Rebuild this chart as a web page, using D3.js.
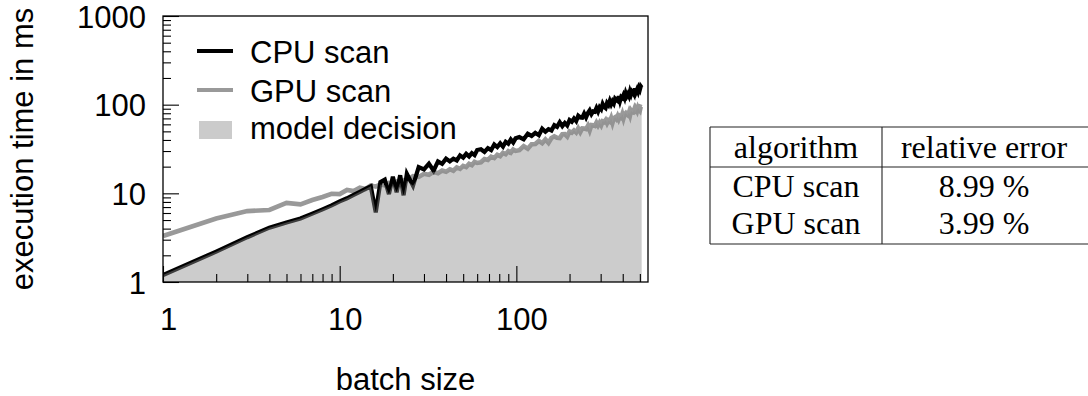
<!DOCTYPE html>
<html><head><meta charset="utf-8">
<script src="https://cdn.jsdelivr.net/npm/d3@7"></script>
<style>body{margin:0;background:#fff} svg{display:block}</style>
</head><body>
<svg id="c" width="1088" height="396"></svg>
<script>
const batchSizes = [
  1,2,3,4,5,6,7,8,9,10,11,12,13,14,15,16,17,18,19,20,21,22,23,24,
  26,28,30,32,34,36,38,40,42,44,46,48,50,52,54,56,58,60,
  63,66,69,72,75,78,81,84,87,90,93,96,99,
  104,110,116,122,128,134,140,146,152,158,164,170,176,182,188,194,200,206,212,218,224,230,236,242,248,
  254,260,266,272,278,284,290,296,302,308,314,320,326,332,338,344,350,356,362,368,374,380,386,392,398,
  404,410,416,422,428,434,440,446,452,458,464,470,476,482,488,494,500,506,512
];
const cpuScan = [
  1.2,2.2,3.2,4.1,4.7,5.2,5.9,6.6,7.3,8.1,8.8,9.6,10.4,11.2,12.0,6.1,13.4,14.3,9.8,15.4,10.3,16.0,9.5,16.6,
  12.2,19.8,18.6,21.6,18.0,22.9,21.5,24.6,22.9,24.6,23.5,26.8,25.3,27.9,26.1,28.4,27.0,30.8,
  31.4,29.3,32.3,30.7,35.5,33.3,36.6,33.6,38.1,36.3,40.5,37.4,41.7,
  43.1,40.7,46.9,44.4,48.1,45.3,53.6,49.5,53.0,51.2,58.7,56.2,63.4,57.3,62.3,58.2,67.2,64.3,69.8,65.3,75.1,71.8,71.2,79.4,71.9,
  80.4,86.2,78.2,84.0,83.1,91.7,83.8,93.5,88.9,102.0,94.5,91.6,104.3,99.2,110.4,100.9,109.1,103.3,117.0,113.1,110.3,124.6,110.1,122.4,119.2,
  128.3,119.0,134.6,125.0,132.0,124.6,141.0,130.8,142.0,138.1,131.2,152.5,139.8,148.6,140.0,154.8,147.4,161.0,156.0
];
const gpuScan = [
  3.3,5.2,6.3,6.5,7.8,7.5,8.4,9.1,9.9,9.8,10.9,10.6,11.6,11.2,12.3,11.9,12.6,12.3,13.1,12.9,13.6,13.2,14.1,13.9,
  15.6,15.3,16.6,16.2,17.5,16.9,18.1,17.5,18.7,18.0,19.6,18.9,20.4,19.8,21.5,20.8,22.7,22.0,
  22.4,24.4,23.8,25.9,25.0,27.2,26.3,28.6,27.6,29.9,28.7,31.2,30.1,
  30.7,34.1,31.9,35.7,36.0,39.0,36.7,40.5,37.1,42.1,43.9,42.3,42.0,46.5,46.6,43.7,49.9,48.3,51.2,48.5,54.0,49.1,54.1,53.9,53.1,
  57.8,51.3,58.9,58.7,57.7,62.8,58.2,62.6,58.5,64.9,63.7,67.0,61.8,66.5,64.6,70.7,62.6,70.2,71.8,69.1,74.3,68.6,73.7,71.7,78.4,
  70.3,77.9,80.3,77.3,75.7,82.2,75.8,85.5,82.3,81.6,87.7,79.2,88.8,84.6,92.5,88.2,85.6,94.6,93.8
];
const xTickValues = [1, 10, 100];
const yTickValues = [1, 10, 100, 1000];
const xLabel = "batch size";
const yLabel = "execution time in ms";
const legendLabels = ["CPU scan", "GPU scan", "model decision"];
const tableHeader = ["algorithm", "relative error"];
const tableAlgorithms = ["CPU scan", "GPU scan"];
const tableErrors = ["8.99 %", "3.99 %"];

const SANS = "'Liberation Sans', Arial, Helvetica, sans-serif";
const SERIF = "'Liberation Serif', 'Times New Roman', serif";
const FS = "31px";
const svg = d3.select("#c");
const P = {l:163, r:648, t:16, b:282};
const x = d3.scaleLog().domain([1, 556]).range([P.l, P.r]);
const y = d3.scaleLog().domain([1, 1000]).range([P.b, P.t]);

const data = batchSizes.map((b,i)=>({b, cpu:cpuScan[i], gpu:gpuScan[i]}));

svg.append("defs").append("clipPath").attr("id","clip")
  .append("rect").attr("x",P.l).attr("y",P.t).attr("width",P.r-P.l).attr("height",P.b-P.t);

const g = svg.append("g").attr("clip-path","url(#clip)");
g.append("path").datum(data)
  .attr("d", d3.line().x(d=>x(d.b)).y(d=>y(d.gpu)))
  .attr("fill","none").attr("stroke","#999").attr("stroke-width",4.6);
g.append("path").datum(data)
  .attr("d", d3.line().x(d=>x(d.b)).y(d=>y(d.cpu)))
  .attr("fill","none").attr("stroke","#000").attr("stroke-width",4.2);
g.append("path").datum(data)
  .attr("d", d3.area().x(d=>x(d.b)).y0(y(1)).y1(d=>y(Math.min(d.cpu,d.gpu))))
  .attr("fill","#8c8c8c").attr("fill-opacity",0.44);

function minors(domainMax){
  const out=[];
  [1,10,100].forEach(d=>{ for(let k=2;k<=9;k++){ if(d*k<=domainMax) out.push(d*k);} });
  return out;
}
const xMinor = minors(556), yMinor = minors(1000);

const fmt = d => String(d);
const xAxisMajor = svg.append("g").attr("transform",`translate(0,${P.b})`)
  .call(d3.axisBottom(x).tickValues(xTickValues).tickFormat(fmt).tickSize(-16).tickPadding(26));
const xAxisMinor = svg.append("g").attr("transform",`translate(0,${P.b})`)
  .call(d3.axisBottom(x).tickValues(xMinor).tickFormat("").tickSize(-8));
const yAxisMajor = svg.append("g").attr("transform",`translate(${P.l},0)`)
  .call(d3.axisLeft(y).tickValues(yTickValues).tickFormat(fmt).tickSize(-16).tickPadding(17));
const yAxisMinor = svg.append("g").attr("transform",`translate(${P.l},0)`)
  .call(d3.axisLeft(y).tickValues(yMinor).tickFormat("").tickSize(-8));
[xAxisMajor,xAxisMinor,yAxisMajor,yAxisMinor].forEach(a=>{
  a.select(".domain").remove();
  a.selectAll("line").attr("stroke","#000").attr("stroke-width",1.1);
  a.selectAll("text").attr("fill","#000").style("font-family",SANS).style("font-size",FS);
});
xAxisMajor.selectAll("text").attr("dx", 5);
yAxisMajor.selectAll("text").attr("dy", "0.36em");

svg.append("rect").attr("x",P.l).attr("y",P.t).attr("width",P.r-P.l).attr("height",P.b-P.t)
  .attr("fill","none").attr("stroke","#000").attr("stroke-width",1.3);

svg.append("text").attr("x",(P.l+P.r)/2).attr("y",390).attr("text-anchor","middle")
  .style("font-family",SANS).style("font-size",FS).text(xLabel);
svg.append("text").attr("transform",`translate(33,${(P.t+P.b)/2}) rotate(-90)`).attr("text-anchor","middle")
  .style("font-family",SANS).style("font-size",FS).text(yLabel);

const lg = svg.append("g");
const legRows = [
  {type:"line", color:"#000", y:51, ty:63},
  {type:"line", color:"#999", y:90, ty:102},
  {type:"rect", color:"#cbcbcb", y:130, ty:139}
];
legRows.forEach((r,i)=>{
  if(r.type==="line"){
    lg.append("line").attr("x1",197).attr("x2",233).attr("y1",r.y).attr("y2",r.y)
      .attr("stroke",r.color).attr("stroke-width",4);
  } else {
    lg.append("rect").attr("x",199).attr("y",121).attr("width",33).attr("height",18).attr("fill",r.color);
  }
  lg.append("text").attr("x",250).attr("y",r.ty).style("font-family",SANS).style("font-size",FS)
    .text(legendLabels[i]);
});

const T = {l:710, m:882, r:1090, top:127, hd:167, bot:244};
const tg = svg.append("g");
[[T.l,T.top,T.r,T.top],[T.l,T.hd,T.r,T.hd],[T.l,T.bot,T.r,T.bot],
 [T.l,T.top,T.l,T.bot],[T.m,T.top,T.m,T.bot],[T.r,T.top,T.r,T.bot]].forEach(s=>{
  tg.append("line").attr("x1",s[0]).attr("y1",s[1]).attr("x2",s[2]).attr("y2",s[3])
    .attr("stroke","#222").attr("stroke-width",1.1);
});
const c1 = 796, c2 = 984;
const rowsBase = [158, 197, 234];
const cells = [
  [tableHeader[0], tableHeader[1]],
  [tableAlgorithms[0], tableErrors[0]],
  [tableAlgorithms[1], tableErrors[1]]
];
cells.forEach((row,i)=>{
  tg.append("text").attr("x",c1).attr("y",rowsBase[i]).attr("text-anchor","middle")
    .style("font-family",SERIF).style("font-size","32px").text(row[0]);
  tg.append("text").attr("x",c2).attr("y",rowsBase[i]).attr("text-anchor","middle")
    .style("font-family",SERIF).style("font-size","32px").text(row[1]);
});
</script>
</body></html>
